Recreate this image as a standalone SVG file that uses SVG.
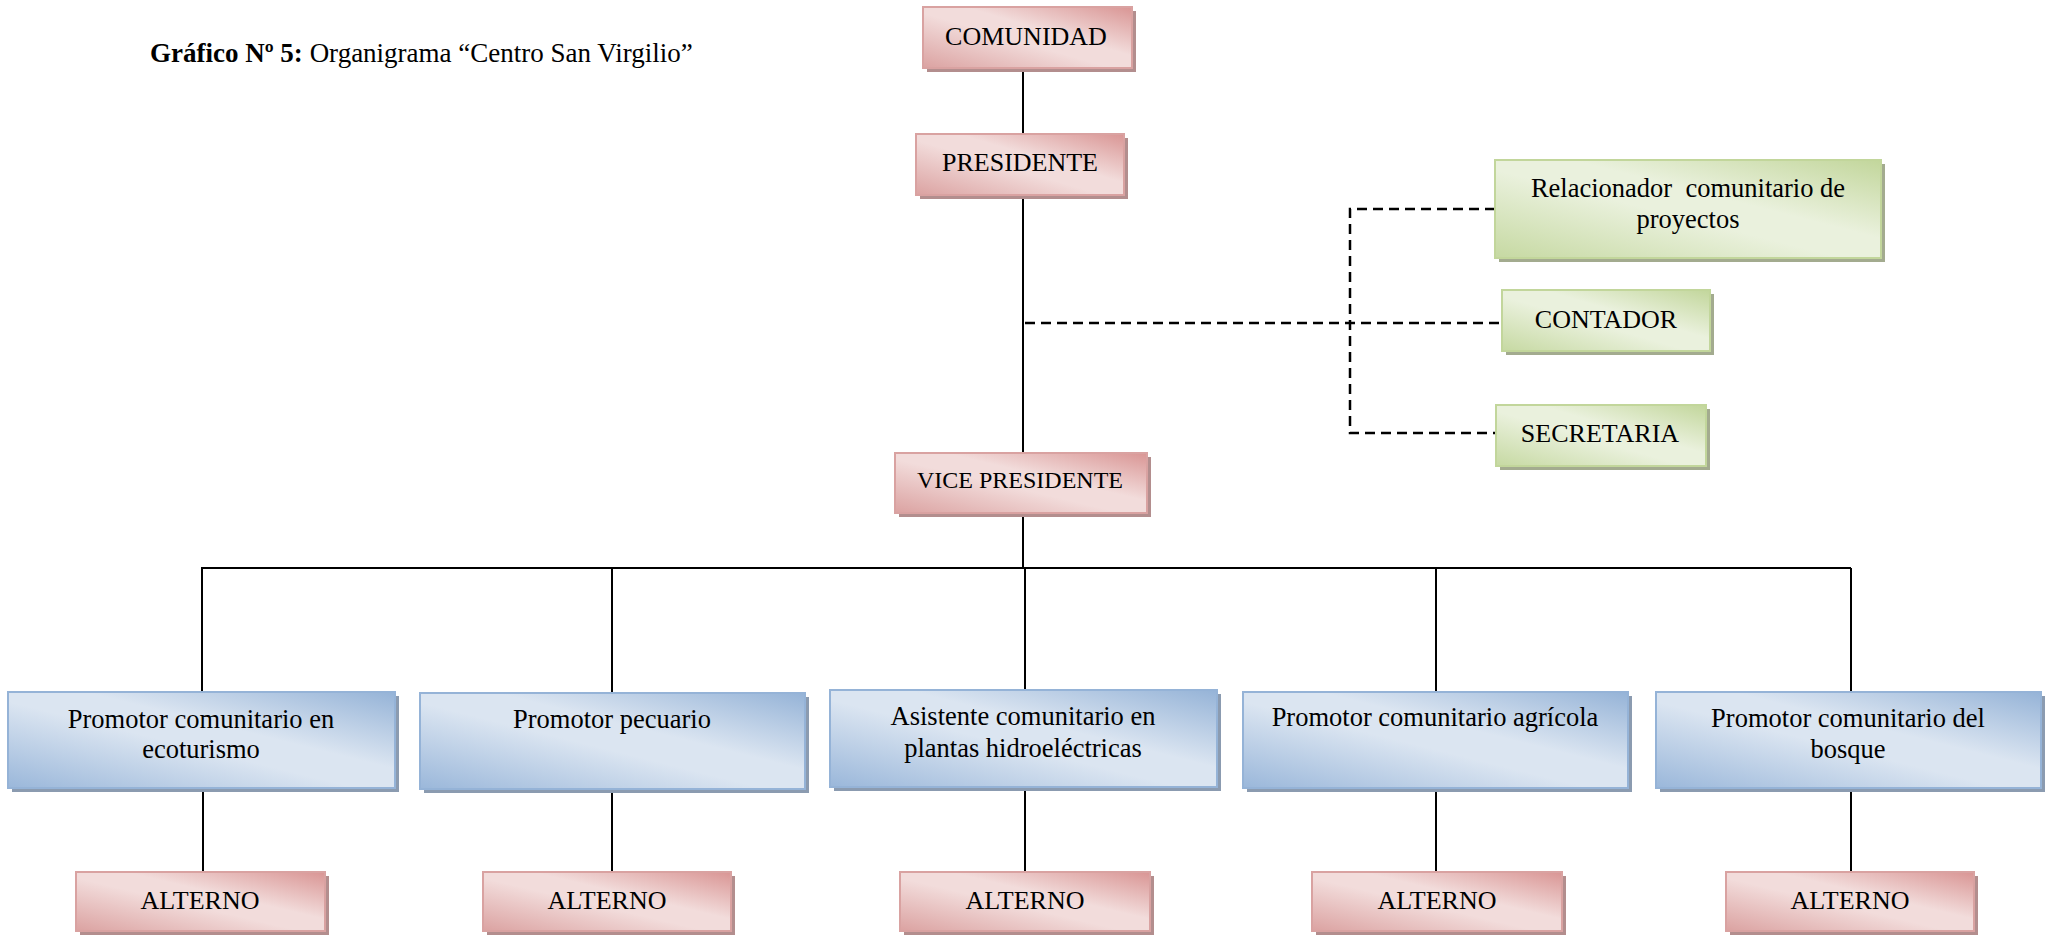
<svg xmlns="http://www.w3.org/2000/svg" width="2051" height="935" viewBox="0 0 2051 935">
<defs>
<linearGradient id="gPink" x1="0" y1="1" x2="1" y2="0">
<stop offset="0" stop-color="#dba2a1"/>
<stop offset="0.45" stop-color="#f2dcdb"/>
<stop offset="0.6" stop-color="#f2dcdb"/>
<stop offset="1" stop-color="#d99594"/>
</linearGradient>
<linearGradient id="gBlue" x1="0" y1="1" x2="1" y2="0">
<stop offset="0" stop-color="#9ab7da"/>
<stop offset="0.45" stop-color="#dbe5f1"/>
<stop offset="0.6" stop-color="#dbe5f1"/>
<stop offset="1" stop-color="#95b3d7"/>
</linearGradient>
<linearGradient id="gGreen" x1="0" y1="1" x2="1" y2="0">
<stop offset="0" stop-color="#c6d9a2"/>
<stop offset="0.45" stop-color="#eaf1dd"/>
<stop offset="0.6" stop-color="#eaf1dd"/>
<stop offset="1" stop-color="#c2d69b"/>
</linearGradient>
</defs>
<style>
text{font-family:"Liberation Serif","Times New Roman",serif;fill:#000;text-anchor:middle}
.pink{fill:url(#gPink);stroke:#d9a2a1;stroke-width:2}
.blue{fill:url(#gBlue);stroke:#95b3d7;stroke-width:2}
.green{fill:url(#gGreen);stroke:#c2d69b;stroke-width:2}
.shp{fill:#b38e8e}
.shb{fill:#8b9bb0}
.shg{fill:#a3ab8f}
.ln{stroke:#000;stroke-width:2;fill:none}
.dl{stroke:#000;stroke-width:2.5;fill:none;stroke-dasharray:10 6}
.t26{font-size:26px}
.t265{font-size:26.5px}
.t24{font-size:24px}
.title{font-family:"Liberation Serif","Times New Roman",serif;font-size:27px;text-anchor:start}
</style>
<rect width="2051" height="935" fill="#fff"/>
<text class="title" x="150" y="62"><tspan font-weight="bold">Gráfico Nº 5:</tspan> Organigrama “Centro San Virgilio”</text>

<g id="connectors">
<line class="ln" x1="1023" y1="68" x2="1023" y2="134"/>
<line class="ln" x1="1023" y1="195" x2="1023" y2="453"/>
<line class="ln" x1="1023" y1="513" x2="1023" y2="568"/>
<line class="ln" x1="201" y1="568" x2="1851" y2="568"/>
<line class="ln" x1="202" y1="568" x2="202" y2="692"/>
<line class="ln" x1="612" y1="568" x2="612" y2="692"/>
<line class="ln" x1="1025" y1="568" x2="1025" y2="690"/>
<line class="ln" x1="1436" y1="568" x2="1436" y2="692"/>
<line class="ln" x1="1851" y1="568" x2="1851" y2="692"/>
<line class="ln" x1="203" y1="788" x2="203" y2="872"/>
<line class="ln" x1="612" y1="788" x2="612" y2="872"/>
<line class="ln" x1="1025" y1="787" x2="1025" y2="872"/>
<line class="ln" x1="1436" y1="788" x2="1436" y2="872"/>
<line class="ln" x1="1851" y1="788" x2="1851" y2="872"/>
<line class="dl" x1="1025" y1="323" x2="1502" y2="323"/>
<polyline class="dl" points="1495,209 1350,209 1350,433 1496,433"/>
</g>

<g id="comunidad">
<rect class="shp" x="927" y="11" width="209" height="61"/>
<rect class="pink" x="923" y="7" width="209" height="61"/>
<text class="t26" x="1026" y="45">COMUNIDAD</text>
</g>
<g id="presidente">
<rect class="shp" x="920" y="138" width="208" height="61"/>
<rect class="pink" x="916" y="134" width="208" height="61"/>
<text class="t26" x="1020" y="171">PRESIDENTE</text>
</g>
<g id="vicepresidente">
<rect class="shp" x="899" y="457" width="252" height="60"/>
<rect class="pink" x="895" y="453" width="252" height="60"/>
<text class="t24" x="1020" y="488">VICE PRESIDENTE</text>
</g>

<g id="relacionador">
<rect class="shg" x="1499" y="164" width="386" height="98"/>
<rect class="green" x="1495" y="160" width="386" height="98"/>
<text class="t265" x="1688" y="197" xml:space="preserve">Relacionador  comunitario de</text>
<text class="t265" x="1688" y="228">proyectos</text>
</g>
<g id="contador">
<rect class="shg" x="1506" y="294" width="208" height="61"/>
<rect class="green" x="1502" y="290" width="208" height="61"/>
<text class="t26" x="1606" y="328">CONTADOR</text>
</g>
<g id="secretaria">
<rect class="shg" x="1500" y="409" width="210" height="61"/>
<rect class="green" x="1496" y="405" width="210" height="61"/>
<text class="t26" x="1600" y="442">SECRETARIA</text>
</g>

<g id="ecoturismo">
<rect class="shb" x="12" y="696" width="387" height="96"/>
<rect class="blue" x="8" y="692" width="387" height="96"/>
<text class="t265" x="201" y="728">Promotor comunitario en</text>
<text class="t265" x="201" y="758">ecoturismo</text>
</g>
<g id="pecuario">
<rect class="shb" x="424" y="697" width="385" height="96"/>
<rect class="blue" x="420" y="693" width="385" height="96"/>
<text class="t265" x="612" y="728">Promotor pecuario</text>
</g>
<g id="hidroelectricas">
<rect class="shb" x="834" y="694" width="387" height="97"/>
<rect class="blue" x="830" y="690" width="387" height="97"/>
<text class="t265" x="1023" y="725">Asistente comunitario en</text>
<text class="t265" x="1023" y="757">plantas hidroeléctricas</text>
</g>
<g id="agricola">
<rect class="shb" x="1247" y="696" width="385" height="96"/>
<rect class="blue" x="1243" y="692" width="385" height="96"/>
<text class="t265" x="1435" y="726">Promotor comunitario agrícola</text>
</g>
<g id="bosque">
<rect class="shb" x="1660" y="696" width="385" height="96"/>
<rect class="blue" x="1656" y="692" width="385" height="96"/>
<text class="t265" x="1848" y="727">Promotor comunitario del</text>
<text class="t265" x="1848" y="758">bosque</text>
</g>

<g id="alterno1">
<rect class="shp" x="80" y="876" width="249" height="59"/>
<rect class="pink" x="76" y="872" width="249" height="59"/>
<text class="t26" x="200" y="909">ALTERNO</text>
</g>
<g id="alterno2">
<rect class="shp" x="487" y="876" width="248" height="59"/>
<rect class="pink" x="483" y="872" width="248" height="59"/>
<text class="t26" x="607" y="909">ALTERNO</text>
</g>
<g id="alterno3">
<rect class="shp" x="904" y="876" width="250" height="59"/>
<rect class="pink" x="900" y="872" width="250" height="59"/>
<text class="t26" x="1025" y="909">ALTERNO</text>
</g>
<g id="alterno4">
<rect class="shp" x="1316" y="876" width="250" height="59"/>
<rect class="pink" x="1312" y="872" width="250" height="59"/>
<text class="t26" x="1437" y="909">ALTERNO</text>
</g>
<g id="alterno5">
<rect class="shp" x="1730" y="876" width="248" height="59"/>
<rect class="pink" x="1726" y="872" width="248" height="59"/>
<text class="t26" x="1850" y="909">ALTERNO</text>
</g>
</svg>
